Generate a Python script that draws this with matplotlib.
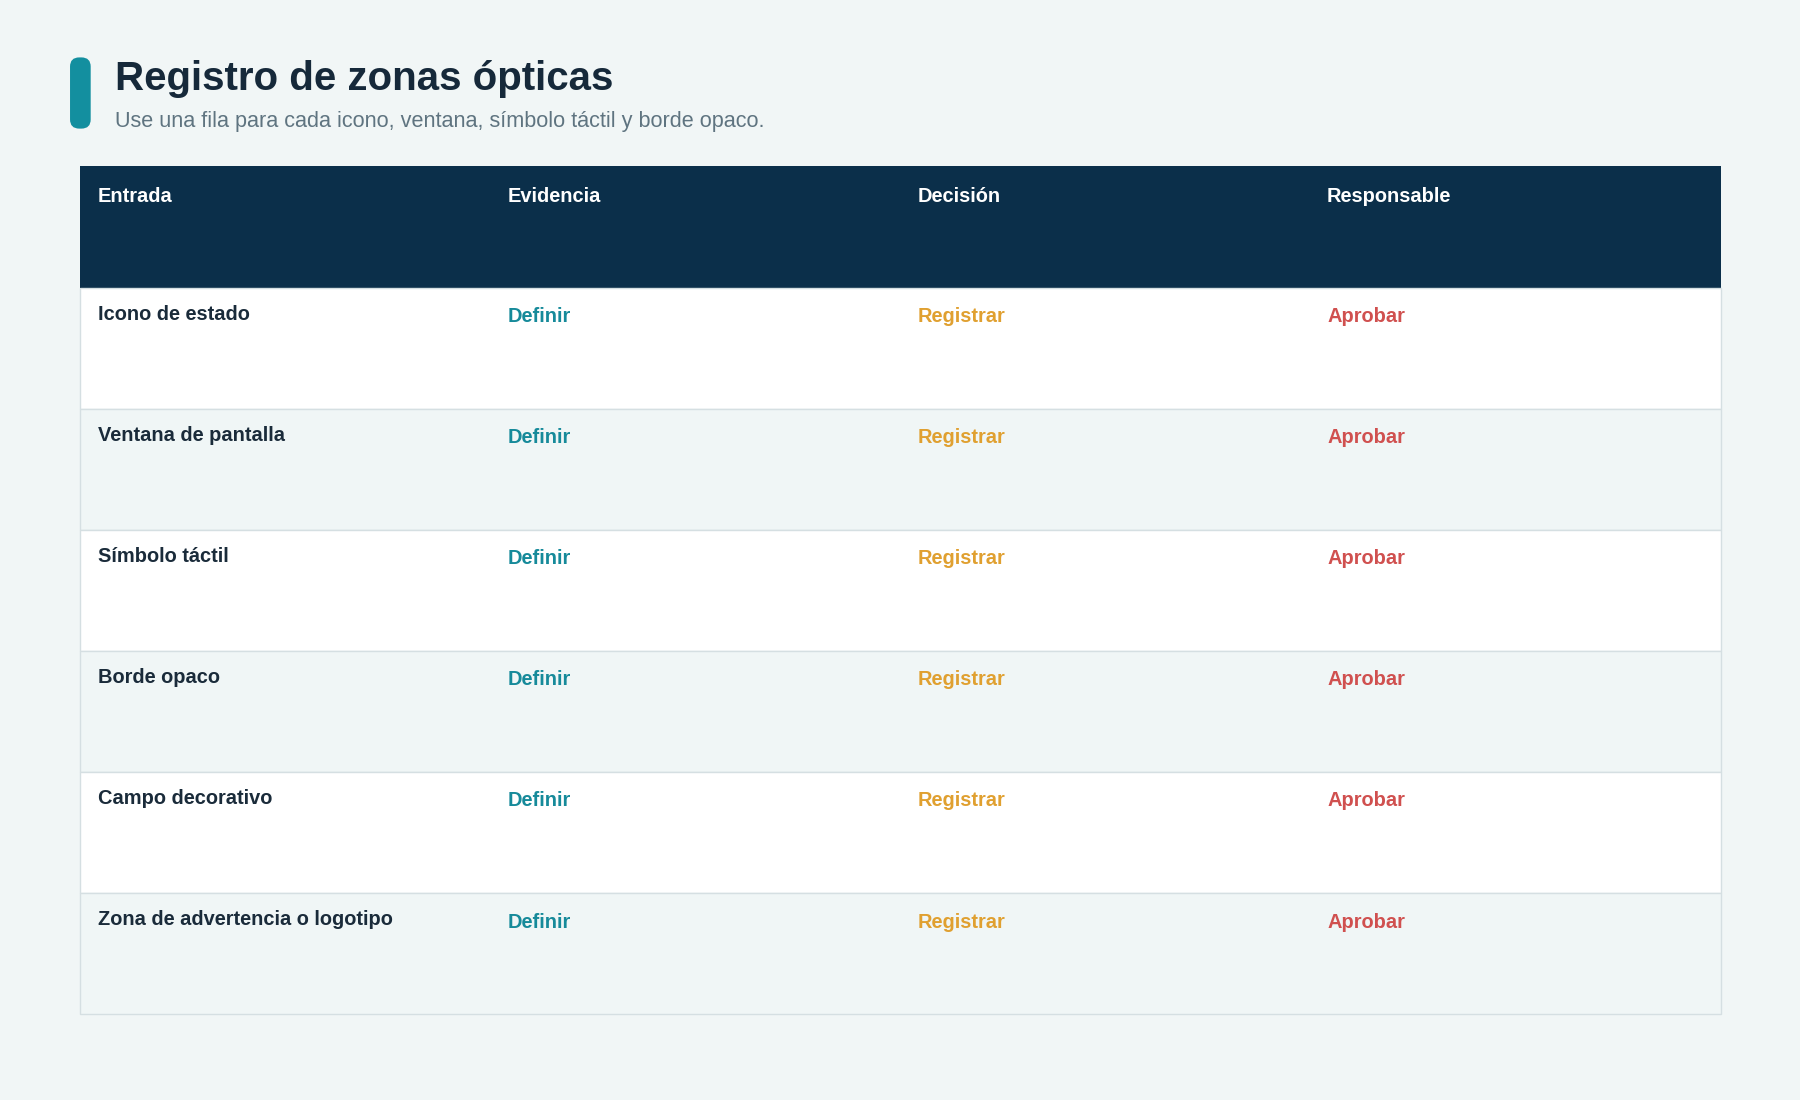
import matplotlib
matplotlib.use("Agg")
import matplotlib.pyplot as plt
from matplotlib.patches import Rectangle, FancyBboxPatch

plt.rcParams['font.family'] = ['Liberation Sans', 'DejaVu Sans']

title = "Registro de zonas ópticas"
subtitle = "Use una fila para cada icono, ventana, símbolo táctil y borde opaco."
columns = ["Entrada", "Evidencia", "Decisión", "Responsable"]
entries = ["Icono de estado", "Ventana de pantalla", "Símbolo táctil",
           "Borde opaco", "Campo decorativo", "Zona de advertencia o logotipo"]
evidencia = ["Definir"] * 6
decision = ["Registrar"] * 6
responsable = ["Aprobar"] * 6

W, H = 1568, 958
fig = plt.figure(figsize=(18, 11), dpi=100)
fig.patch.set_facecolor("#f1f6f6")
ax = fig.add_axes([0, 0, 1, 1])
ax.set_xlim(0, W); ax.set_ylim(H, 0); ax.axis("off")

ax.add_patch(FancyBboxPatch((61, 50), 18, 62, boxstyle="round,pad=0,rounding_size=8",
                            fc="#138f9f", ec="none"))
ax.text(100, 69, title, fontsize=29, fontweight="bold", color="#16293a", va="center")
ax.text(100, 106, subtitle, fontsize=15.6, color="#5f7480", va="center")

x0, x1 = 70, 1499
top, hh, rh = 145, 105.5, 105.5
colx = [85, 442, 799, 1156]
ax.add_patch(Rectangle((x0, top), x1 - x0, hh, fc="#0b2f4a", ec="none"))
for cx, c in zip(colx, columns):
    ax.text(cx, 171, c, fontsize=14.4, fontweight="bold", color="white", va="center")

colors = ["#1a2b3a", "#168a9a", "#e0a030", "#d0504f"]
for i in range(len(entries)):
    y = top + hh + i * rh
    ax.add_patch(Rectangle((x0, y), x1 - x0, rh, fc="white" if i % 2 == 0 else "#f0f6f6",
                           ec="#d5dfe2", lw=1))
    vals = [entries[i], evidencia[i], decision[i], responsable[i]]
    for j, (cx, v) in enumerate(zip(colx, vals)):
        ax.text(cx, y + (23 if j == 0 else 25), v, fontsize=14.4, fontweight="bold",
                color=colors[j], va="center")

fig.savefig("out.png", dpi=100, facecolor=fig.get_facecolor())
